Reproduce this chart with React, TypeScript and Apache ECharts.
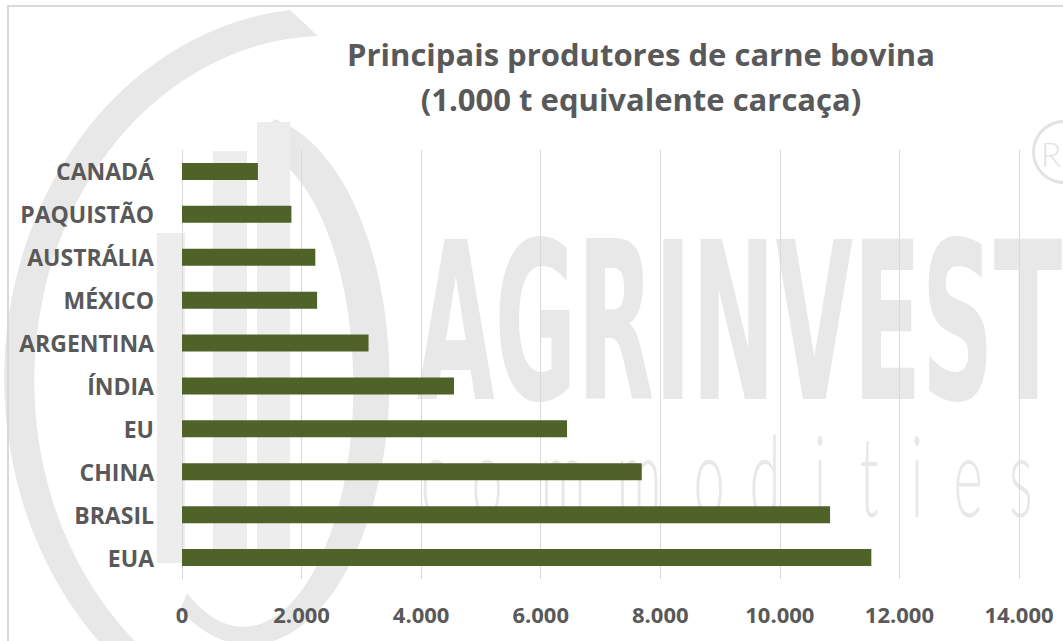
import React, { useEffect, useRef } from "react";
import * as echarts from "echarts";

const categories = ["CANADÁ", "PAQUISTÃO", "AUSTRÁLIA", "MÉXICO", "ARGENTINA", "ÍNDIA", "EU", "CHINA", "BRASIL", "EUA"];
const production = [1270, 1830, 2230, 2260, 3120, 4550, 6440, 7690, 10840, 11530];
const axisMin = 0;
const axisMax = 14000;
const axisStep = 2000;
const titleLines = ["Principais produtores de carne bovina", "(1.000 t equivalente carcaça)"];
const watermarkWord = "AGRINVEST";
const watermarkSub = ["c", "o", "m", "m", "o", "d", "i", "t", "i", "e", "s"];
const watermarkSubX = [434, 487, 563, 639, 709, 765, 820, 869, 917, 968, 1021];

const CRESCENT = "M 290 10 A 318 370 0 0 0 275 744 L 307 725 A 293 345 0 0 1 318 36 Z";
const SWOOSH = "M 274 119 A 140 265 0 1 1 180 610 L 187 593 A 110 240 0 1 0 258 149 Z";

let registered = false;
function registerShapes() {
  if (registered) return;
  registered = true;
  echarts.graphic.registerShape("wmCrescent", echarts.graphic.extendPath(CRESCENT, {}));
  echarts.graphic.registerShape("wmSwoosh", echarts.graphic.extendPath(SWOOSH, {}));
}

const fmt = (v: number) => String(v).replace(/\B(?=(\d{3})+(?!\d))/g, ".");

export default function App() {
  const ref = useRef<HTMLDivElement>(null);
  useEffect(() => {
    if (!ref.current) return;
    registerShapes();
    const chart = echarts.init(ref.current, null, { renderer: "svg" });
    const wm = "#e8e8e8";
    const graphics: any[] = [
      { type: "wmCrescent", x: 0, y: 0, z: -10, silent: true, style: { fill: wm } },
      { type: "wmSwoosh", x: 0, y: 0, z: -10, silent: true, style: { fill: wm } },
      { type: "rect", z: -10, silent: true, shape: { x: 157, y: 233, width: 28, height: 330 }, style: { fill: "#ededed" } },
      { type: "rect", z: -10, silent: true, shape: { x: 213, y: 151, width: 34, height: 412 }, style: { fill: "#ededed" } },
      { type: "rect", z: -10, silent: true, shape: { x: 257, y: 122, width: 33, height: 441 }, style: { fill: "#ededed" } },
      {
        type: "text", x: 417, y: 323, scaleX: 0.458, z: -10, silent: true,
        style: { text: watermarkWord, fill: wm, fontFamily: "DejaVu Sans", fontWeight: "bold", fontSize: 219, align: "left", verticalAlign: "middle" },
      },
      ...watermarkSub.map((ch, i) => ({
        type: "text", x: watermarkSubX[i], y: 474, scaleX: 0.5, z: -10, silent: true,
        style: { text: ch, fill: wm, fontFamily: "Lato", fontWeight: 300, fontSize: 112, align: "center", verticalAlign: "middle" },
      })),
      { type: "ring", z: -10, silent: true, shape: { cx: 1064, cy: 152, r: 32, r0: 29 }, style: { fill: "#e3e3e3" } },
      {
        type: "text", x: 1051, y: 153, z: -10, silent: true,
        style: { text: "R", fill: "#e3e3e3", fontFamily: "Lato", fontWeight: 300, fontSize: 34, align: "center", verticalAlign: "middle" },
      },
      { type: "rect", z: -5, silent: true, shape: { x: 8, y: 6, width: 1200, height: 800 }, style: { fill: "none", stroke: "#d9d9d9", lineWidth: 2 } },
      {
        type: "text", x: 641, y: 54, z: 10,
        style: { text: titleLines[0], fill: "#595959", fontFamily: "Open Sans", fontWeight: "bold", fontSize: 31, align: "center", verticalAlign: "middle" },
      },
      {
        type: "text", x: 641, y: 99, z: 10,
        style: { text: titleLines[1], fill: "#595959", fontFamily: "Open Sans", fontWeight: "bold", fontSize: 31, align: "center", verticalAlign: "middle" },
      },
    ];
    chart.setOption({
      animation: false,
      backgroundColor: "#ffffff",
      grid: { left: 182, right: 44, top: 150, bottom: 62, containLabel: false },
      xAxis: {
        type: "value",
        min: axisMin,
        max: axisMax,
        interval: axisStep,
        axisLine: { show: false },
        axisTick: { show: false },
        splitLine: { show: true, lineStyle: { color: "#d9d9d9", width: 1 } },
        axisLabel: {
          formatter: (v: number) => fmt(v),
          color: "#595959",
          fontFamily: "Open Sans",
          fontWeight: "bold",
          fontSize: 22,
          margin: 24,
        },
      },
      yAxis: {
        type: "category",
        data: categories,
        inverse: true,
        axisLine: { show: false },
        axisTick: { show: false },
        axisLabel: {
          color: "#595959",
          fontFamily: "Open Sans",
          fontWeight: "bold",
          fontSize: 23,
          margin: 28,
        },
      },
      series: [
        {
          type: "bar",
          data: production,
          barWidth: 17,
          itemStyle: { color: "#4f6228" },
        },
      ],
      graphic: graphics,
    });
    return () => chart.dispose();
  }, []);
  return <div ref={ref} style={{ position: "fixed", left: 0, top: 0, width: 1063, height: 641 }} />;
}
